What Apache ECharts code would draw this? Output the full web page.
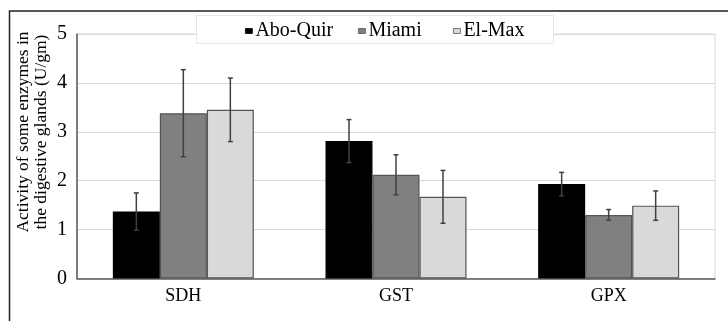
<!DOCTYPE html>
<html><head><meta charset="utf-8">
<script src="https://cdn.jsdelivr.net/npm/echarts@6/dist/echarts.min.js"></script>
<style>html,body{margin:0;padding:0;background:#fff}#c{width:728px;height:321px}</style>
</head><body><div id="c"></div>
<script>
var categories = ['SDH', 'GST', 'GPX'];
var seriesNames = ['Abo-Quir', 'Miami', 'El-Max'];
var aboQuir = [1.37, 2.81, 1.93];
var miami = [3.38, 2.12, 1.30];
var elMax = [3.45, 1.67, 1.49];
var aboQuirErr = [0.38, 0.44, 0.24];
var miamiErr = [0.89, 0.41, 0.11];
var elMaxErr = [0.65, 0.54, 0.30];
var yTicks = [0, 1, 2, 3, 4, 5];
var yTitle = 'Activity of some enzymes in\nthe digestive glands (U/gm)';

var values = [aboQuir, miami, elMax];
var errs = [aboQuirErr, miamiErr, elMaxErr];
var colors = ['#000000', '#808080', '#d9d9d9'];
var font = '"Liberation Serif", "Times New Roman", serif';
var BAR_W = 47;

var chart = echarts.init(document.getElementById('c'), null, {renderer: 'canvas'});
var series = [];
seriesNames.forEach(function (name, i) {
  series.push({
    name: name, type: 'bar', data: values[i], barWidth: BAR_W, barGap: '0%',
    itemStyle: {color: colors[i], borderColor: i === 0 ? '#000' : '#555', borderWidth: 1.2},
    z: 2
  });
});
seriesNames.forEach(function (name, i) {
  var d = values[i].map(function (v, k) { return [k, v - errs[i][k], v + errs[i][k]]; });
  series.push({
    type: 'custom', data: d, z: 5, silent: true,
    renderItem: function (params, api) {
      var k = api.value(0);
      var lo = api.coord([k, api.value(1)]);
      var hi = api.coord([k, api.value(2)]);
      var x = lo[0] + (i - 1) * BAR_W;
      var cap = 2.5;
      var st = {stroke: '#404040', lineWidth: 1.5};
      return {type: 'group', children: [
        {type: 'line', shape: {x1: x, y1: lo[1], x2: x, y2: hi[1]}, style: st},
        {type: 'line', shape: {x1: x - cap, y1: lo[1], x2: x + cap, y2: lo[1]}, style: st},
        {type: 'line', shape: {x1: x - cap, y1: hi[1], x2: x + cap, y2: hi[1]}, style: st}
      ]};
    }
  });
});

var legendLefts = [245, 358, 453];
var legends = seriesNames.map(function (name, i) {
  return {
    data: [name], left: legendLefts[i], top: 21, padding: 0, icon: 'rect', itemWidth: 7, itemHeight: 5,
    selectedMode: false, z: 10,
    textStyle: {fontFamily: font, fontSize: 20, color: '#000', padding: [0, 0, 0, -2]},
    itemStyle: {borderColor: i === 0 ? '#000' : '#555', borderWidth: 0.8}
  };
});

chart.setOption({
  animation: false,
  color: colors,
  grid: {left: 77, right: 13, top: 34, bottom: 42.5, show: true, borderColor: '#d9d9d9', borderWidth: 1},
  xAxis: {
    type: 'category', data: categories,
    axisLine: {lineStyle: {color: '#595959', width: 1.5}},
    axisTick: {show: false},
    axisLabel: {fontFamily: font, fontSize: 18, color: '#000', margin: 9}
  },
  yAxis: {
    type: 'value', min: yTicks[0], max: yTicks[yTicks.length - 1], interval: 1,
    axisLine: {show: true, lineStyle: {color: '#595959', width: 1.5}},
    axisTick: {show: false},
    splitLine: {lineStyle: {color: '#d9d9d9', width: 1}},
    axisLabel: {fontFamily: font, fontSize: 20, color: '#000', margin: 10}
  },
  legend: legends,
  graphic: [
    {type: 'rect', shape: {x: 9.5, y: 11, width: 800, height: 400}, style: {fill: 'none', stroke: '#222', lineWidth: 1.5}, z: 0, silent: true},
    {type: 'rect', shape: {x: 196.5, y: 15.5, width: 357, height: 28}, style: {fill: '#fff', stroke: '#e6e6e6', lineWidth: 1}, z: 9, silent: true},
    {type: 'text', x: 32, y: 132, rotation: Math.PI / 2, z: 10,
      style: {text: yTitle, font: '17.5px ' + font, fill: '#000', align: 'center', verticalAlign: 'middle', lineHeight: 18}}
  ],
  series: series
});
</script></body></html>
